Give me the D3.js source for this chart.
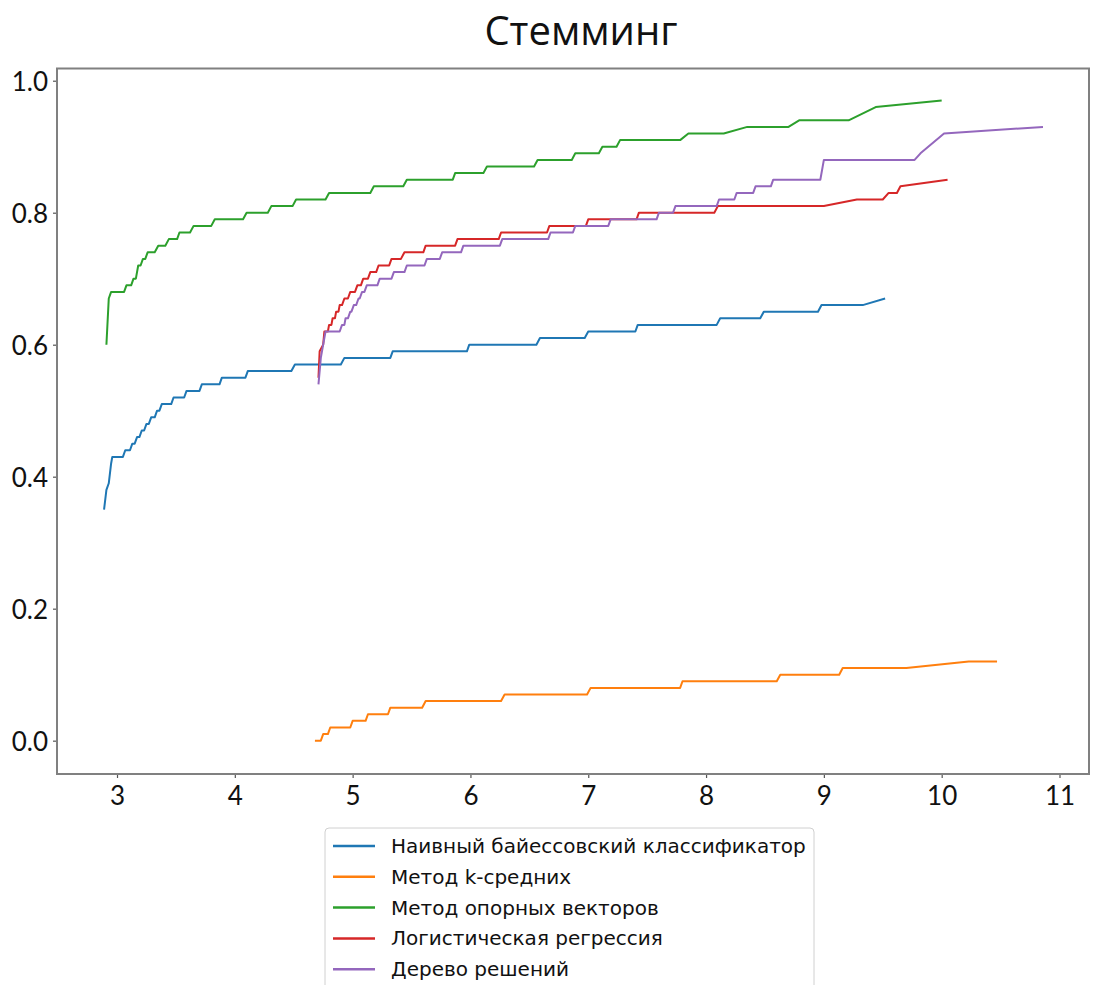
<!DOCTYPE html>
<html>
<head>
<meta charset="utf-8">
<script src="https://cdn.jsdelivr.net/npm/d3@7"></script>
<style>
  html, body { margin: 0; padding: 0; background: #fff; }
  svg { display: block; }
</style>
</head>
<body>
<svg id="chart" width="1093" height="985"></svg>
<script>
// Series names and colours (legend order)
const seriesNames = [
  "Наивный байессовский классификатор",
  "Метод k-средних",
  "Метод опорных векторов",
  "Логистическая регрессия",
  "Дерево решений"
];
const seriesColors = ["#1f77b4", "#ff7f0e", "#2ca02c", "#d62728", "#9467bd"];

// Curves as [x, accuracy] points
const naiveBayes = [
  [2.89,0.35],[2.91,0.38],[2.93,0.39],[2.95,0.42],[2.96,0.43],[3.05,0.43],[3.07,0.44],
  [3.11,0.44],[3.13,0.45],[3.15,0.45],[3.17,0.46],[3.19,0.46],[3.21,0.47],[3.23,0.47],
  [3.25,0.48],[3.27,0.48],[3.29,0.49],[3.32,0.49],[3.34,0.50],[3.36,0.50],[3.38,0.51],
  [3.46,0.51],[3.48,0.52],[3.57,0.52],[3.59,0.53],[3.70,0.53],[3.72,0.54],[3.87,0.54],
  [3.89,0.55],[4.09,0.55],[4.11,0.56],[4.48,0.56],[4.51,0.57],[4.90,0.57],[4.93,0.58],
  [5.32,0.58],[5.34,0.59],[5.97,0.59],[5.99,0.60],[6.56,0.60],[6.59,0.61],[6.97,0.61],
  [7.00,0.62],[7.40,0.62],[7.42,0.63],[8.09,0.63],[8.12,0.64],[8.46,0.64],[8.49,0.65],
  [8.95,0.65],[8.98,0.66],[9.33,0.66],[9.52,0.67]
];
const kMeans = [
  [4.68,0.00],[4.73,0.00],[4.75,0.01],[4.79,0.01],[4.81,0.02],[4.98,0.02],[5.00,0.03],
  [5.11,0.03],[5.13,0.04],[5.30,0.04],[5.32,0.05],[5.59,0.05],[5.62,0.06],[6.26,0.06],
  [6.29,0.07],[6.99,0.07],[7.02,0.08],[7.78,0.08],[7.80,0.09],[8.60,0.09],[8.63,0.10],
  [9.13,0.10],[9.16,0.11],[9.70,0.11],[10.23,0.12],[10.47,0.12]
];
const svm = [
  [2.91,0.60],[2.93,0.67],[2.95,0.68],[3.06,0.68],[3.08,0.69],[3.12,0.69],[3.14,0.70],
  [3.16,0.70],[3.18,0.72],[3.20,0.72],[3.22,0.73],[3.24,0.73],[3.26,0.74],[3.32,0.74],
  [3.35,0.75],[3.41,0.75],[3.44,0.76],[3.51,0.76],[3.53,0.77],[3.62,0.77],[3.65,0.78],
  [3.80,0.78],[3.83,0.79],[4.07,0.79],[4.10,0.80],[4.28,0.80],[4.31,0.81],[4.49,0.81],
  [4.52,0.82],[4.77,0.82],[4.80,0.83],[5.15,0.83],[5.18,0.84],[5.43,0.84],[5.46,0.85],
  [5.85,0.85],[5.87,0.86],[6.11,0.86],[6.14,0.87],[6.54,0.87],[6.57,0.88],[6.86,0.88],
  [6.89,0.89],[7.09,0.89],[7.12,0.90],[7.24,0.90],[7.27,0.91],[7.78,0.91],[7.85,0.92],
  [8.15,0.92],[8.35,0.93],[8.70,0.93],[8.79,0.94],[9.21,0.94],[9.44,0.96],[10.00,0.97]
];
const logReg = [
  [4.71,0.55],[4.72,0.59],[4.75,0.60],[4.76,0.62],[4.79,0.62],[4.80,0.63],[4.82,0.63],
  [4.83,0.64],[4.85,0.64],[4.86,0.65],[4.88,0.65],[4.89,0.66],[4.91,0.66],[4.93,0.67],
  [4.96,0.67],[4.98,0.68],[5.02,0.68],[5.04,0.69],[5.07,0.69],[5.09,0.70],[5.13,0.70],
  [5.15,0.71],[5.20,0.71],[5.22,0.72],[5.31,0.72],[5.33,0.73],[5.41,0.73],[5.44,0.74],
  [5.60,0.74],[5.62,0.75],[5.87,0.75],[5.89,0.76],[6.24,0.76],[6.26,0.77],[6.65,0.77],
  [6.67,0.78],[6.98,0.78],[7.00,0.79],[7.41,0.79],[7.43,0.80],[8.07,0.80],[8.10,0.81],
  [9.00,0.81],[9.28,0.82],[9.50,0.82],[9.55,0.83],[9.62,0.83],[9.65,0.84],[10.05,0.85]
];
const decisionTree = [
  [4.71,0.54],[4.73,0.58],[4.75,0.60],[4.77,0.62],[4.89,0.62],[4.91,0.63],[4.93,0.63],
  [4.94,0.64],[4.96,0.64],[4.98,0.65],[4.99,0.65],[5.01,0.66],[5.03,0.66],[5.05,0.67],
  [5.06,0.67],[5.08,0.68],[5.10,0.68],[5.12,0.69],[5.21,0.69],[5.23,0.70],[5.33,0.70],
  [5.35,0.71],[5.44,0.71],[5.46,0.72],[5.61,0.72],[5.63,0.73],[5.74,0.73],[5.76,0.74],
  [5.92,0.74],[5.94,0.75],[6.25,0.75],[6.27,0.76],[6.66,0.76],[6.68,0.77],[6.87,0.77],
  [6.89,0.78],[7.17,0.78],[7.19,0.79],[7.58,0.79],[7.60,0.80],[7.72,0.80],[7.74,0.81],
  [8.09,0.81],[8.11,0.82],[8.24,0.82],[8.26,0.83],[8.40,0.83],[8.42,0.84],[8.55,0.84],
  [8.57,0.85],[8.97,0.85],[9.00,0.88],[9.77,0.88],[9.82,0.89],[10.02,0.92],[10.86,0.93]
];

// Axis ticks
const xTicks = [3, 4, 5, 6, 7, 8, 9, 10, 11];
const yTicks = [0.0, 0.2, 0.4, 0.6, 0.8, 1.0];

const seriesData = [naiveBayes, kMeans, svm, logReg, decisionTree];

const svg = d3.select("#chart");
const plot = { left: 57, right: 1089, top: 68.5, bottom: 774 };

const x = d3.scaleLinear().domain([2.4906, 11.2505]).range([plot.left, plot.right]);
const y = d3.scaleLinear().domain([-0.0505, 1.0185]).range([plot.bottom, plot.top]);

// Title
svg.append("text")
  .attr("x", 581)
  .attr("y", 45)
  .attr("text-anchor", "middle")
  .attr("font-family", "'Open Sans', sans-serif")
  .attr("font-size", 40)
  .attr("fill", "#111")
  .text("Стемминг");

// Curves
const line = d3.line().x(d => x(d[0])).y(d => y(d[1]));
const curves = svg.append("g");
seriesData.forEach((pts, i) => {
  curves.append("path")
    .datum(pts)
    .attr("d", line)
    .attr("fill", "none")
    .attr("stroke", seriesColors[i])
    .attr("stroke-width", 2)
    .attr("stroke-linejoin", "round")
    .attr("stroke-linecap", "butt");
});

// Axes
const xAxis = d3.axisBottom(x).tickValues(xTicks).tickFormat(d3.format("d")).tickSize(4).tickPadding(5);
const yAxis = d3.axisLeft(y).tickValues(yTicks).tickFormat(d3.format(".1f")).tickSize(4).tickPadding(5);

const gx = svg.append("g").attr("transform", `translate(0,${plot.bottom})`).call(xAxis);
const gy = svg.append("g").attr("transform", `translate(${plot.left},0)`).call(yAxis);
[gx, gy].forEach(g => {
  g.select(".domain").remove();
  g.selectAll(".tick line").attr("stroke", "#555").attr("stroke-width", 1.2);
  g.selectAll(".tick text")
    .attr("font-family", "Lato, 'Open Sans', sans-serif")
    .attr("font-size", 26)
    .attr("fill", "#111");
});
gx.selectAll(".tick text").attr("dy", "0.85em");
gy.selectAll(".tick text").attr("dy", "0.36em");

// Frame
svg.append("rect")
  .attr("x", plot.left)
  .attr("y", plot.top)
  .attr("width", plot.right - plot.left)
  .attr("height", plot.bottom - plot.top)
  .attr("fill", "none")
  .attr("stroke", "#808080")
  .attr("stroke-width", 2);

// Legend
const legend = svg.append("g");
legend.append("rect")
  .attr("x", 325)
  .attr("y", 828)
  .attr("width", 489)
  .attr("height", 175)
  .attr("rx", 4)
  .attr("fill", "#fff")
  .attr("stroke", "#d0d0d0")
  .attr("stroke-width", 1);
seriesNames.forEach((name, i) => {
  const cy = 846 + i * 30.8;
  legend.append("line")
    .attr("x1", 333).attr("x2", 375)
    .attr("y1", cy).attr("y2", cy)
    .attr("stroke", seriesColors[i])
    .attr("stroke-width", 2.5);
  legend.append("text")
    .attr("x", 391)
    .attr("y", cy)
    .attr("dy", "0.35em")
    .attr("font-family", "'DejaVu Sans', sans-serif")
    .attr("font-size", 20)
    .attr("fill", "#111")
    .text(name);
});
</script>
</body>
</html>
